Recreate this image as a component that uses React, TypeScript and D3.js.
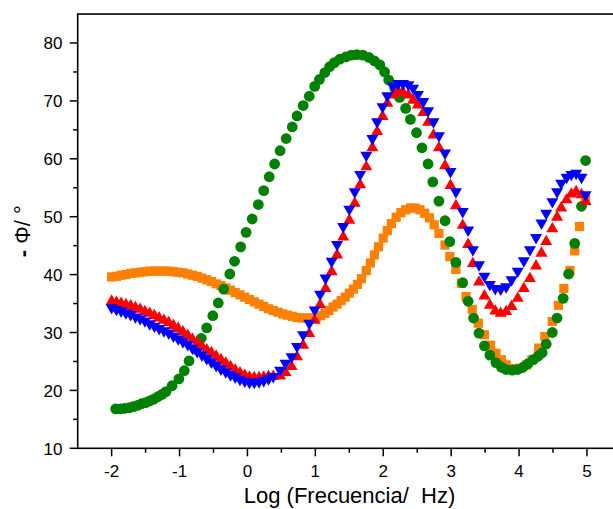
import React from "react";
import * as d3 from "d3";

// Log(frequency / Hz) readings and -phase (degrees) per series
const greenX = [-1.94,-1.87,-1.81,-1.74,-1.68,-1.62,-1.56,-1.5,-1.44,-1.38,-1.32,-1.26,-1.2,-1.11,-1.01,-0.93,-0.86,-0.76,-0.68,-0.6,-0.51,-0.43,-0.35,-0.26,-0.19,-0.1,-0.02,0.07,0.16,0.24,0.32,0.4,0.48,0.57,0.66,0.73,0.82,0.91,0.99,1.06,1.14,1.21,1.28,1.36,1.45,1.53,1.61,1.7,1.79,1.87,1.95,2.02,2.08,2.17,2.24,2.33,2.4,2.49,2.57,2.66,2.73,2.82,2.91,2.98,3.07,3.17,3.25,3.33,3.41,3.49,3.57,3.66,3.74,3.81,3.9,3.98,4.06,4.13,4.21,4.28,4.34,4.4,4.49,4.56,4.65,4.73,4.82,4.92,4.98];
const greenY = [16.8,16.8,16.9,17.0,17.2,17.4,17.7,17.9,18.2,18.5,18.9,19.3,19.8,20.8,22.0,23.4,25.1,27.1,29.0,30.8,32.9,35.1,37.5,40.1,42.3,44.8,47.3,49.6,52.1,54.5,56.9,59.1,61.4,63.5,65.5,67.4,69.2,70.8,72.5,73.7,74.9,75.9,76.6,77.2,77.6,77.9,78.0,77.9,77.5,76.9,76.2,75.0,73.6,72.2,70.6,68.7,66.8,64.5,61.9,59.1,56.0,52.7,49.3,45.7,42.1,38.6,35.4,32.5,29.9,27.7,26.1,24.8,24.0,23.6,23.5,23.6,24.0,24.6,25.3,25.9,26.5,28.0,30.0,32.5,35.9,40.1,45.4,51.8,59.7];

const blueX = [-2.0,-1.93,-1.86,-1.79,-1.72,-1.65,-1.58,-1.51,-1.44,-1.37,-1.3,-1.23,-1.16,-1.09,-1.02,-0.95,-0.88,-0.81,-0.74,-0.67,-0.6,-0.53,-0.46,-0.39,-0.32,-0.25,-0.18,-0.11,-0.04,0.03,0.1,0.17,0.24,0.31,0.38,0.48,0.56,0.65,0.73,0.82,0.91,0.99,1.07,1.15,1.24,1.32,1.41,1.5,1.58,1.66,1.75,1.84,1.91,1.99,2.06,2.14,2.22,2.29,2.37,2.44,2.51,2.59,2.66,2.74,2.82,2.91,2.99,3.07,3.17,3.25,3.32,3.41,3.49,3.57,3.65,3.73,3.81,3.89,3.98,4.07,4.16,4.25,4.33,4.4,4.49,4.56,4.62,4.7,4.77,4.84,4.92,4.98];
const blueY = [34.0,33.7,33.4,33.1,32.8,32.4,32.1,31.7,31.2,30.8,30.4,30.0,29.6,29.1,28.6,28.1,27.6,27.0,26.4,25.8,25.2,24.6,24.0,23.4,22.9,22.4,22.0,21.6,21.3,21.1,21.1,21.2,21.4,21.7,22.1,23.2,24.4,25.5,27.3,29.3,31.3,33.6,36.3,39.1,42.0,44.9,48.0,51.0,54.0,57.0,60.3,63.2,66.1,68.7,70.6,72.3,72.7,72.7,72.5,71.9,70.8,69.6,68.0,66.1,63.7,60.7,57.5,54.0,50.6,47.4,44.0,41.4,39.4,38.0,37.3,37.2,37.6,38.8,40.3,42.1,44.0,46.1,48.6,50.3,52.3,54.0,55.5,56.5,57.0,57.2,56.5,53.5];

const redX = blueX;
const redY = [35.7,35.5,35.3,35.1,34.9,34.6,34.3,33.9,33.6,33.2,32.8,32.4,32.0,31.5,31.0,30.4,29.8,29.1,28.5,27.9,27.3,26.8,26.2,25.6,25.0,24.4,23.8,23.3,22.9,22.6,22.5,22.5,22.6,22.7,22.7,22.8,23.4,24.4,26.1,28.1,30.1,32.4,35.1,37.9,40.8,43.7,46.8,49.7,52.6,55.8,58.9,62.2,65.0,67.6,69.9,71.3,71.9,71.8,71.3,70.4,69.6,68.3,66.6,64.4,62.2,59.1,55.7,52.2,48.8,45.5,42.2,39.0,36.6,35.0,34.0,33.6,33.9,34.8,36.2,37.9,39.6,41.8,44.0,46.0,48.2,50.2,51.8,53.2,54.2,54.6,54.1,52.9];

const orangeX = [-2.0,-1.93,-1.86,-1.79,-1.72,-1.65,-1.58,-1.51,-1.44,-1.37,-1.3,-1.23,-1.16,-1.09,-1.02,-0.95,-0.88,-0.81,-0.74,-0.67,-0.6,-0.53,-0.46,-0.39,-0.32,-0.25,-0.18,-0.11,-0.04,0.03,0.1,0.17,0.24,0.31,0.38,0.45,0.52,0.59,0.66,0.73,0.8,0.87,0.94,1.01,1.08,1.14,1.2,1.26,1.32,1.38,1.44,1.5,1.56,1.62,1.68,1.75,1.81,1.87,1.93,2.0,2.06,2.12,2.19,2.26,2.33,2.4,2.47,2.54,2.61,2.68,2.75,2.82,2.91,2.98,3.07,3.15,3.22,3.31,3.4,3.49,3.58,3.66,3.74,3.81,3.91,4.01,4.11,4.19,4.29,4.38,4.49,4.58,4.66,4.75,4.82,4.89,4.98];
const orangeY = [39.6,39.7,39.9,40.0,40.2,40.3,40.4,40.5,40.6,40.6,40.6,40.6,40.6,40.5,40.4,40.3,40.1,39.9,39.7,39.4,39.1,38.8,38.4,38.1,37.7,37.3,36.9,36.5,36.1,35.7,35.3,34.9,34.5,34.1,33.8,33.5,33.2,33.0,32.8,32.6,32.5,32.5,32.5,32.6,32.9,33.3,33.8,34.4,34.9,35.5,36.1,36.8,37.5,38.3,39.3,40.7,42.0,43.4,44.8,46.3,47.6,48.8,49.9,50.7,51.2,51.5,51.5,51.2,50.6,49.8,48.6,47.1,45.1,43.1,40.9,38.5,36.2,34.0,31.6,29.6,27.8,26.4,25.3,24.4,23.8,23.8,24.4,25.3,27.3,29.3,31.9,34.7,37.6,40.7,44.1,48.3,53.4];

const xTicks = [-2, -1, 0, 1, 2, 3, 4, 5];
const xMinor = [-1.5, -0.5, 0.5, 1.5, 2.5, 3.5, 4.5];
const yTicks = [10, 20, 30, 40, 50, 60, 70, 80];
const yMinor = [15, 25, 35, 45, 55, 65, 75];

const W = 613, H = 509;
const FONT = "'Liberation Sans', Arial, sans-serif";

export default function App() {
  const x = d3.scaleLinear().domain([-2.5, 5.5]).range([77.7, 620.9]);
  const y = d3.scaleLinear().domain([10, 85]).range([448.3, 14.05]);
  const pts = (xs: number[], ys: number[]) => xs.map((v, i) => [x(v), y(ys[i])] as [number, number]);

  const triUp = "M0,-5.2L6,5.2L-6,5.2Z";
  const triDown = "M0,5.2L6,-5.2L-6,-5.2Z";

  return (
    <svg width={W} height={H} style={{ position: "absolute", left: 0, top: 0, background: "#fff" }} fontFamily={FONT}>
      <rect x={0} y={0} width={W} height={H} fill="#fff" />
      {/* orange squares */}
      <g fill="#FF8000">
        {pts(orangeX, orangeY).map(([px, py], i) => (
          <rect key={i} x={px - 4.6} y={py - 4.6} width={9.2} height={9.2} />
        ))}
      </g>
      {/* green circles */}
      <g fill="#008000">
        {pts(greenX, greenY).map(([px, py], i) => (
          <circle key={i} cx={px} cy={py} r={5.4} />
        ))}
      </g>
      {/* red up triangles */}
      <g fill="#FF0000">
        {pts(redX, redY).map(([px, py], i) => (
          <path key={i} d={triUp} transform={`translate(${px},${py})`} />
        ))}
      </g>
      {/* blue down triangles */}
      <g fill="#0000FF">
        {pts(blueX, blueY).map(([px, py], i) => (
          <path key={i} d={triDown} transform={`translate(${px},${py})`} />
        ))}
      </g>

      {/* frame */}
      <rect x={x(-2.5)} y={y(85)} width={x(5.5) - x(-2.5)} height={y(10) - y(85)} fill="none" stroke="#000" strokeWidth={1.6} />

      {/* x axis ticks */}
      {xTicks.map((t) => (
        <g key={"xt" + t}>
          <line x1={x(t)} x2={x(t)} y1={y(10)} y2={y(10) + 8} stroke="#000" strokeWidth={1.5} />
          <text x={x(t)} y={476.5} textAnchor="middle" fontSize={17} fill="#000">{t}</text>
        </g>
      ))}
      {xMinor.map((t) => (
        <line key={"xm" + t} x1={x(t)} x2={x(t)} y1={y(10)} y2={y(10) + 4.5} stroke="#000" strokeWidth={1.5} />
      ))}

      {/* y axis ticks */}
      {yTicks.map((t) => (
        <g key={"yt" + t}>
          <line x1={x(-2.5) - 8} x2={x(-2.5)} y1={y(t)} y2={y(t)} stroke="#000" strokeWidth={1.5} />
          <text x={62.5} y={y(t) + 6.3} textAnchor="end" fontSize={17} fill="#000">{t}</text>
        </g>
      ))}
      {yMinor.map((t) => (
        <line key={"ym" + t} x1={x(-2.5) - 4.5} x2={x(-2.5)} y1={y(t)} y2={y(t)} stroke="#000" strokeWidth={1.5} />
      ))}

      {/* axis titles */}
      <text x={349.5} y={503} textAnchor="middle" fontSize={22} fill="#000" style={{ whiteSpace: "pre" }}>
        {"Log (Frecuencia/  Hz)"}
      </text>
      <text transform={`translate(29.5,${(y(10) + y(85)) / 2}) rotate(-90)`} textAnchor="middle" fontSize={22} fill="#000" style={{ whiteSpace: "pre" }}>
        <tspan fontWeight="bold">-</tspan>
        <tspan>{" Φ/ °"}</tspan>
      </text>
    </svg>
  );
}
